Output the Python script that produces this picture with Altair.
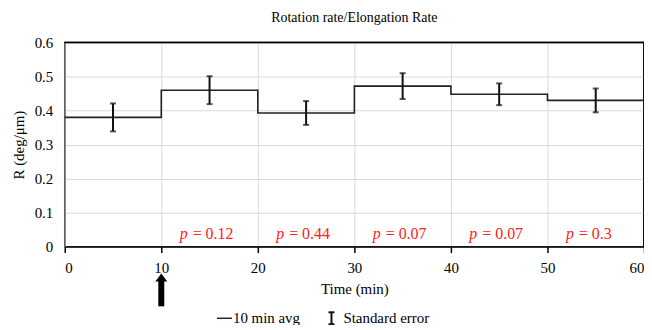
import altair as alt
import pandas as pd

# ---- data ----
seg_start = [0, 10, 20, 30, 40, 50]
seg_end = [10, 20, 30, 40, 50, 60]
mids = [5, 15, 25, 35, 45, 55]
means = [0.380, 0.460, 0.393, 0.472, 0.448, 0.430]
se = [0.041, 0.041, 0.035, 0.038, 0.032, 0.035]
p_mids = [15, 25, 35, 45, 55]
p_vals = ["0.12", "0.44", "0.07", "0.07", "0.3"]
arrow_time = [10]
x_ticks = [0, 10, 20, 30, 40, 50, 60]
y_ticks = [0, 0.1, 0.2, 0.3, 0.4, 0.5, 0.6]

FONT = "Liberation Serif"

step_df = pd.DataFrame({"t": seg_start + [seg_end[-1]], "r": means + [means[-1]]})
err_df = pd.DataFrame({
    "t": mids,
    "lo": [m - s for m, s in zip(means, se)],
    "hi": [m + s for m, s in zip(means, se)],
})
p_df = pd.DataFrame({"t": p_mids, "p": ["p"] * len(p_mids), "rest": ["= " + v for v in p_vals]})
arrow_df = pd.DataFrame({"t": arrow_time})

xscale = alt.Scale(domain=[0, 60], nice=False)
yscale = alt.Scale(domain=[0, 0.6], nice=False)

xaxis = alt.Axis(values=x_ticks, title="Time (min)", grid=True, labelOverlap=False,
                 gridColor="#d9d9d9", domainColor="black", domainWidth=1.5,
                 tickColor="black", tickSize=6, tickWidth=1.5, labelPadding=8,
                 labelFont=FONT, labelFontSize=15, labelColor="black",
                 titleFont=FONT, titleFontSize=15, titleFontWeight="normal",
                 titleColor="black", titlePadding=6)
yaxis = alt.Axis(values=y_ticks, format=".1~f", labelOverlap=False,
                 title="R (deg/μm)", grid=True, gridColor="#d9d9d9",
                 domainColor="#868686", domainWidth=1.5, ticks=False,
                 labelPadding=12, labelFont=FONT, labelFontSize=15, labelColor="black",
                 titleFont=FONT, titleFontSize=15, titleFontWeight="normal",
                 titleColor="black", titlePadding=8)

X = lambda f: alt.X(f, type="quantitative", scale=xscale, axis=xaxis)
Y = lambda f: alt.Y(f, type="quantitative", scale=yscale, axis=yaxis, title="R (deg/μm)")

step = alt.Chart(step_df).mark_line(interpolate="step-after", color="#222222",
                                    strokeWidth=1.6).encode(x=X("t"), y=Y("r"))

err_rule = alt.Chart(err_df).mark_rule(color="#111111", strokeWidth=2).encode(
    x=X("t"), y=Y("lo"), y2="hi:Q")
cap_lo = alt.Chart(err_df).mark_tick(color="#111111", orient="horizontal",
                                     size=6, thickness=2).encode(x=X("t"), y=Y("lo"))
cap_hi = alt.Chart(err_df).mark_tick(color="#111111", orient="horizontal",
                                     size=6, thickness=2).encode(x=X("t"), y=Y("hi"))

p_italic = alt.Chart(p_df).mark_text(font=FONT, fontSize=16, fontStyle="italic",
                                     color="#ff2020", align="right", baseline="middle",
                                     dx=-22).encode(
    x=X("t"), y=alt.value(192), text="p:N")
p_rest = alt.Chart(p_df).mark_text(font=FONT, fontSize=16, color="#ff2020",
                                   align="left", baseline="middle", dx=-17).encode(
    x=X("t"), y=alt.value(192), text="rest:N")

arrow_shaft = alt.Chart(arrow_df).mark_rule(color="black", strokeWidth=6,
                                            clip=False).encode(
    x=X("t"), y=alt.value(239), y2=alt.value(265))
arrow_head = alt.Chart(arrow_df).mark_point(shape="M0,-0.67L1,0.67L-1,0.67Z", size=144,
                                            filled=True, color="black", opacity=1,
                                            clip=False).encode(
    x=X("t"), y=alt.value(236))

legend_df = pd.DataFrame({"k": [0]})
# plot frame (top and right edges)
frame_top = alt.Chart(legend_df).mark_rule(color="black", strokeWidth=1.5).encode(
    x=alt.value(0), x2=alt.value(582), y=alt.value(0))
frame_right = alt.Chart(legend_df).mark_rule(color="black", strokeWidth=1.5).encode(
    x=alt.value(582), y=alt.value(0), y2=alt.value(205))

leg_line = alt.Chart(legend_df).mark_rule(color="#222222", strokeWidth=1.5).encode(
    x=alt.value(153), x2=alt.value(168), y=alt.value(277))
leg_text1 = alt.Chart(legend_df).mark_text(font=FONT, fontSize=15, color="black",
                                           align="left", baseline="middle", text="10 min avg").encode(
    x=alt.value(169), y=alt.value(277))
leg_bar = alt.Chart(legend_df).mark_rule(color="#111111", strokeWidth=2).encode(
    x=alt.value(268), y=alt.value(271), y2=alt.value(283))
leg_cap1 = alt.Chart(legend_df).mark_rule(color="#111111", strokeWidth=2).encode(
    x=alt.value(265), x2=alt.value(271), y=alt.value(271))
leg_cap2 = alt.Chart(legend_df).mark_rule(color="#111111", strokeWidth=2).encode(
    x=alt.value(265), x2=alt.value(271), y=alt.value(283))
leg_text2 = alt.Chart(legend_df).mark_text(font=FONT, fontSize=15, color="black",
                                           align="left", baseline="middle", text="Standard error").encode(
    x=alt.value(280), y=alt.value(277))

chart = alt.layer(
    step, err_rule, cap_lo, cap_hi, p_italic, p_rest, arrow_shaft, arrow_head,
    frame_top, frame_right,
    leg_line, leg_text1, leg_bar, leg_cap1, leg_cap2, leg_text2,
).properties(
    width=582, height=205,
    title=alt.TitleParams("Rotation rate/Elongation Rate", font=FONT, fontSize=14,
                          fontWeight="normal", color="black", offset=11),
    autosize=alt.AutoSizeParams(type="none"),
    padding={"left": 57, "top": 34, "right": 0, "bottom": 78},
).configure(
    background="white",
    view=alt.ViewConfig(stroke="black", strokeWidth=1.5),
)

chart.save("out.html", embed_options={"renderer": "svg", "actions": False})
